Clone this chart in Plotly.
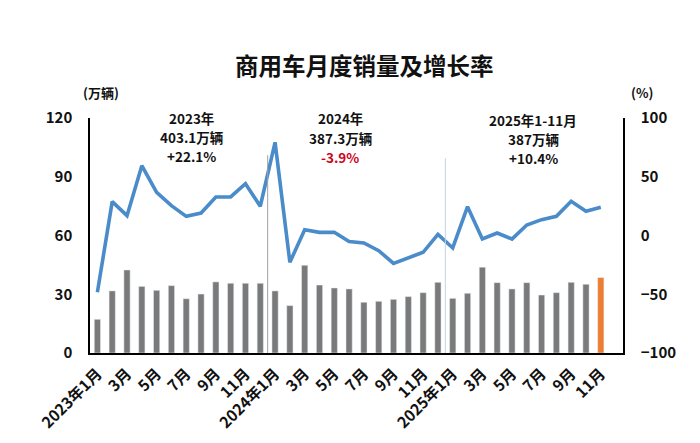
import plotly.graph_objects as go

months = ["2023年1月","2月","3月","4月","5月","6月","7月","8月","9月","10月","11月","12月",
          "2024年1月","2月","3月","4月","5月","6月","7月","8月","9月","10月","11月","12月",
          "2025年1月","2月","3月","4月","5月","6月","7月","8月","9月","10月","11月"]
sales = [17.2, 31.7, 42.4, 34.0, 32.0, 34.4, 27.7, 30.1, 36.3, 35.6, 35.6, 35.6,
         31.7, 24.2, 44.8, 34.7, 33.2, 32.7, 25.9, 26.4, 27.4, 28.8, 30.8, 36.1,
         27.9, 30.5, 43.8, 35.9, 32.7, 35.9, 29.6, 30.8, 36.1, 35.1, 38.5]
growth = [-48.3, 28.8, 16.9, 59.4, 36.8, 25.4, 16.3, 19.1, 32.8, 32.8, 44.1, 24.9,
          79.3, -22.8, 4.9, 2.7, 2.7, -5.2, -6.4, -12.9, -23.7, -18.6, -14.3, 1.0,
          -10.6, 24.5, -3.0, 2.1, -3.0, 8.9, 13.5, 16.3, 29.1, 20.6, 24.0]
left_ticks = [0, 30, 60, 90, 120]
right_ticks = [-100, -50, 0, 50, 100]

x = list(range(len(months)))
bar_colors = ["#7a7a7a"] * (len(months) - 1) + ["#ED7D31"]

FONT = "Noto Sans CJK SC"
BOLD = dict(family=FONT, weight="bold")

fig = go.Figure()
fig.add_trace(go.Bar(x=x, y=sales, marker_color=bar_colors, width=0.42,
                     yaxis="y", showlegend=False))
fig.add_trace(go.Scatter(x=x, y=growth, mode="lines", yaxis="y2",
                         line=dict(color="#4A8BC9", width=3.6), showlegend=False))

tickvals = x[::2]
ticktext = [months[i] for i in tickvals]

# page body has an 8px margin: plot area targeted at x 90..623, y 118..353
L, R, T, B = 90, 623, 118, 353
W, H = R - L, B - T
def px(xp):
    return (xp - L) / W
def py(yp):
    return (B - yp) / H

fig.update_layout(
    width=700, height=443,
    margin=dict(l=L - 8, r=700 - R + 8, t=T - 8, b=443 - B + 8, autoexpand=False),
    paper_bgcolor="white", plot_bgcolor="white",
    font=dict(family=FONT, color="#000000"),
    xaxis=dict(range=[-0.5, 35.5], tickvals=tickvals, ticktext=ticktext,
               tickangle=-45, showline=True, linecolor="#000", linewidth=1.5,
               showgrid=False, ticks="", automargin=False, ticklabelstandoff=4,
               tickfont=dict(size=15.5, color="#111", **BOLD)),
    yaxis=dict(range=[0, 120], tickvals=left_ticks, showline=True, linecolor="#000",
               linewidth=1.5, showgrid=False, zeroline=False, ticks="", automargin=False,
               ticklabelstandoff=13, tickfont=dict(size=15, color="#111", **BOLD)),
    yaxis2=dict(range=[-100, 100], tickvals=right_ticks, overlaying="y", side="right",
                showline=True, linecolor="#000", linewidth=1.5, showgrid=False,
                zeroline=False, ticks="", automargin=False, ticklabelstandoff=13,
                tickfont=dict(size=15, color="#111", **BOLD)),
)

fig.add_shape(type="line", x0=11.5, x1=11.5, y0=0, y1=101, xref="x", yref="y",
              line=dict(color="#a0a0a0", width=1))
fig.add_shape(type="line", x0=23.5, x1=23.5, y0=0, y1=99.5, xref="x", yref="y",
              line=dict(color="#c5d3e3", width=1))

def label(xp, yp, text, size, color="#111"):
    fig.add_annotation(xref="paper", yref="paper", x=px(xp), y=py(yp), text=text,
                       showarrow=False, xanchor="center", yanchor="middle",
                       borderpad=0, font=dict(size=size, color=color, **BOLD))

label(364, 65, "商用车月度销量及增长率", 23.5)

notes = [
    (191, 0, ["2023年", "403.1万辆", "+22.1%"], "#111"),
    (340, 0.5, ["2024年", "387.3万辆", "-3.9%"], "#d0021b"),
    (533, 2, ["2025年1-11月", "387万辆", "+10.4%"], "#111"),
]
for xp, dy, lines, last_color in notes:
    for i, t in enumerate(lines):
        label(xp, 118 + dy + i * 19, t, 13.5, last_color if i == 2 else "#111")

label(101, 93, "(万辆)", 13)
label(642, 93, "(%)", 13)

fig.write_html("out.html")
